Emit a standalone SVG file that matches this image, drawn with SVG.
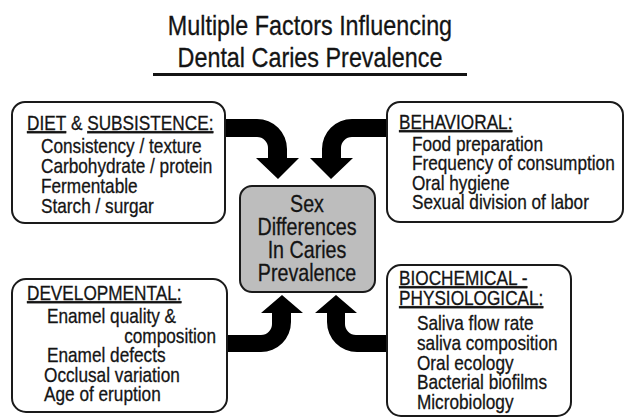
<svg xmlns="http://www.w3.org/2000/svg" width="626" height="419" viewBox="0 0 626 419">
<style>
text{font-family:"Liberation Sans",Arial,sans-serif;fill:#141414;stroke:#141414;stroke-width:0.3}
.t{font-size:28.5px}
.c{font-size:24px}
.b{font-size:21px}
.u{text-decoration:underline}
.box{fill:#fff;stroke:#1a1a1a;stroke-width:2}
.ctr{fill:#bdbdbd;stroke:#1a1a1a;stroke-width:2}
.arr{fill:#000}
</style>
<defs>
<filter id="soft" x="-10%" y="-10%" width="120%" height="120%"><feGaussianBlur stdDeviation="0.7"/></filter>
</defs>
<rect width="626" height="419" fill="#fff"/>
<g id="title">
<g transform="scale(0.82 1)">
<text class="t" x="378" y="35" text-anchor="middle">Multiple Factors Influencing</text>
<text class="t" x="378" y="67" text-anchor="middle">Dental Caries Prevalence</text>
</g>
<rect x="153" y="73" width="314" height="3" fill="#141414"/>
</g>
<g id="connectors" filter="url(#soft)">
<path class="arr" d="M222 119 L257 119 A30 30 0 0 1 287 149 L287 158 L299 158 L278 179 L256 158 L268 158 L268 148 A11 11 0 0 0 257 137 L222 137 Z"/>
<path class="arr" d="M391 119 L352 119 A30 30 0 0 0 322 149 L322 158 L310 158 L331 179 L353 158 L341 158 L341 148 A11 11 0 0 1 352 137 L391 137 Z"/>
<path class="arr" d="M222 335 L261 335 A11 11 0 0 0 272 324 L272 313 L261 313 L282 295 L303 313 L291 313 L291 322 A30 30 0 0 1 261 352 L222 352 Z"/>
<path class="arr" d="M391 335 L356 335 A11 11 0 0 1 345 324 L345 313 L357 313 L336 295 L315 313 L327 313 L327 322 A30 30 0 0 0 357 352 L391 352 Z"/>
</g>
<g id="diet">
<rect class="box" x="12" y="102" width="213" height="121" rx="13"/>
<g transform="scale(0.82 1)">
<text class="b" x="32.9" y="130"><tspan class="u">DIET</tspan> &amp; <tspan class="u">SUBSISTENCE:</tspan></text>
<text class="b" x="50" y="153">Consistency / texture</text>
<text class="b" x="50" y="173">Carbohydrate / protein</text>
<text class="b" x="50" y="193">Fermentable</text>
<text class="b" x="50" y="213">Starch / surgar</text>
</g>
</g>
<g id="behavioral">
<rect class="box" x="387" y="102" width="236" height="120" rx="13"/>
<g transform="scale(0.82 1)">
<text class="b u" x="486.6" y="129">BEHAVIORAL:</text>
<text class="b" x="502.4" y="151">Food preparation</text>
<text class="b" x="502.4" y="170.5">Frequency of consumption</text>
<text class="b" x="502.4" y="190">Oral hygiene</text>
<text class="b" x="502.4" y="209.5">Sexual division of labor</text>
</g>
</g>
<g id="center">
<rect class="ctr" x="240" y="186" width="135" height="106" rx="12"/>
<g transform="scale(0.82 1)">
<text class="c" x="374.4" y="212" text-anchor="middle">Sex</text>
<text class="c" x="374.4" y="235" text-anchor="middle">Differences</text>
<text class="c" x="374.4" y="258" text-anchor="middle">In Caries</text>
<text class="c" x="374.4" y="281" text-anchor="middle">Prevalence</text>
</g>
</g>
<g id="developmental">
<rect class="box" x="12" y="279" width="215" height="133" rx="14"/>
<g transform="scale(0.82 1)">
<text class="b u" x="32.9" y="300">DEVELOPMENTAL:</text>
<text class="b" x="57.3" y="323.5">Enamel quality &amp;</text>
<text class="b" x="263.4" y="343" text-anchor="end">composition</text>
<text class="b" x="57.3" y="362.5">Enamel defects</text>
<text class="b" x="53.7" y="382">Occlusal variation</text>
<text class="b" x="53.7" y="401.5">Age of eruption</text>
</g>
</g>
<g id="biochemical">
<rect class="box" x="387" y="265" width="184" height="151" rx="14"/>
<g transform="scale(0.82 1)">
<text class="b u" x="486.6" y="285">BIOCHEMICAL -</text>
<text class="b u" x="486.6" y="305">PHYSIOLOGICAL:</text>
<text class="b" x="508.5" y="330">Saliva flow rate</text>
<text class="b" x="508.5" y="350">saliva composition</text>
<text class="b" x="508.5" y="370">Oral ecology</text>
<text class="b" x="508.5" y="389.5">Bacterial biofilms</text>
<text class="b" x="508.5" y="409">Microbiology</text>
</g>
</g>
</svg>
